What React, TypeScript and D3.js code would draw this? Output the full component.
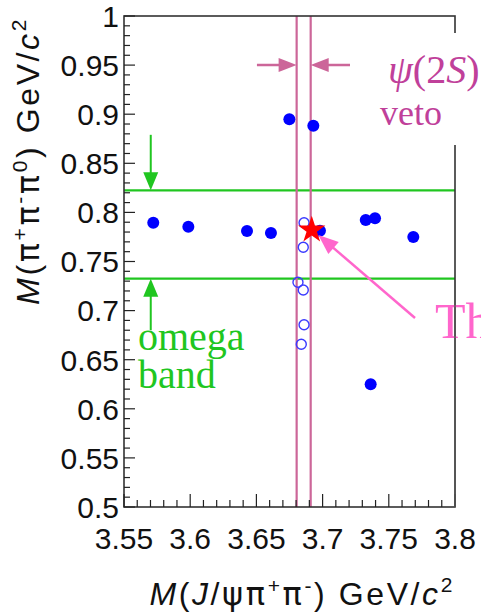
import * as d3 from "d3";

// event candidates passing selection (filled) and inside the psi(2S) veto (open)
const filledX = [3.5721, 3.5986, 3.6429, 3.661, 3.698, 3.7326, 3.7396, 3.7685, 3.7363, 3.6749, 3.693];
const filledY = [0.7895, 0.7854, 0.7811, 0.779, 0.7814, 0.7923, 0.794, 0.7749, 0.6249, 0.8948, 0.8883];
const openX = [3.686, 3.6854, 3.6814, 3.6854, 3.686, 3.6839];
const openY = [0.7895, 0.7645, 0.7288, 0.721, 0.6856, 0.6657];
const starPoint = [3.6918, 0.7821];
const vetoLines = [3.6804, 3.691];
const omegaBand = [0.7325, 0.8225];
const xTicks = [3.55, 3.6, 3.65, 3.7, 3.75, 3.8];
const xTickLabels = ["3.55", "3.6", "3.65", "3.7", "3.75", "3.8"];
const yTicks = [0.5, 0.55, 0.6, 0.65, 0.7, 0.75, 0.8, 0.85, 0.9, 0.95, 1];
const yTickLabels = ["0.5", "0.55", "0.6", "0.65", "0.7", "0.75", "0.8", "0.85", "0.9", "0.95", "1"];

const W = 481;
const H = 616;
const sans = "'Liberation Sans', Arial, sans-serif";
const serif = "'Liberation Serif', 'Times New Roman', serif";
const greek = "'DejaVu Sans', sans-serif";
const green = "#20c620";
const vetoPink = "#cc6699";
const hotPink = "#ff66cc";

function arrowHead(tx: number, ty: number, fx: number, fy: number, len: number, half: number) {
  // triangle with tip at (tx,ty) pointing away from (fx,fy)
  const a = Math.atan2(ty - fy, tx - fx);
  const bx = tx - len * Math.cos(a);
  const by = ty - len * Math.sin(a);
  const px = -Math.sin(a) * half;
  const py = Math.cos(a) * half;
  return `M${tx},${ty}L${bx + px},${by + py}L${bx - px},${by - py}Z`;
}

export default function App() {
  const x = d3.scaleLinear().domain([3.55, 3.8]).range([124, 455]);
  const y = d3.scaleLinear().domain([0.5, 1]).range([507, 16]);

  const xMinor = d3.range(3.55, 3.8001, 0.01);
  const yMinor = d3.range(0.5, 1.0001, 0.01);

  const star = d3.symbol().type(d3.symbolStar).size(230)();

  // annotation anchors in data units
  const gx = x(3.5702);
  const downTop = y(0.879);
  const upBottom = y(0.68);
  const pinkY = y(0.9501);
  const leftStart = x(3.6504);
  const rightStart = x(3.7207);
  const tail = [x(3.7698), y(0.6925)];
  const tip = [x(3.6968), y(0.777)];
  const ang = Math.atan2(tip[1] - tail[1], tip[0] - tail[0]);

  return (
    <svg width={W} height={H} style={{ position: "absolute", left: 0, top: 0, background: "#fff" }}>
      {/* omega band */}
      {omegaBand.map((v, i) => (
        <line key={"b" + i} x1={x(3.55)} x2={x(3.8)} y1={y(v)} y2={y(v)} stroke={green} strokeWidth={2.2} />
      ))}
      {/* psi(2S) veto lines */}
      {vetoLines.map((v, i) => (
        <line key={"v" + i} x1={x(v)} x2={x(v)} y1={y(1)} y2={y(0.5)} stroke={vetoPink} strokeWidth={2.2} />
      ))}

      {/* vetoed events */}
      {openX.map((v, i) => (
        <circle key={"o" + i} cx={x(v)} cy={y(openY[i])} r={5} fill="none" stroke="#3a3aff" strokeWidth={1.4} />
      ))}
      {/* selected events */}
      {filledX.map((v, i) => (
        <circle key={"f" + i} cx={x(v)} cy={y(filledY[i])} r={6} fill="#0000ff" />
      ))}
      <path d={star ?? ""} transform={`translate(${x(starPoint[0])},${y(starPoint[1])})`} fill="#ff0000" />

      {/* frame */}
      <rect x={x(3.55)} y={y(1)} width={x(3.8) - x(3.55)} height={y(0.5) - y(1)} fill="none" stroke="#333" strokeWidth={1.6} />

      {/* x ticks */}
      {xMinor.map((v, i) => {
        const major = i % 5 === 0;
        return <line key={"xm" + i} x1={x(v)} x2={x(v)} y1={y(0.5)} y2={y(0.5) - (major ? 13 : 7)} stroke="#222" strokeWidth={1.2} />;
      })}
      {xTicks.map((v, i) => (
        <text key={"xl" + i} x={x(v)} y={549} textAnchor="middle" fontFamily={sans} fontSize={30} fill="#111">
          {xTickLabels[i]}
        </text>
      ))}
      {/* y ticks */}
      {yMinor.map((v, i) => {
        const major = i % 5 === 0;
        return <line key={"ym" + i} x1={x(3.55)} x2={x(3.55) + (major ? 11 : 6)} y1={y(v)} y2={y(v)} stroke="#222" strokeWidth={1.2} />;
      })}
      {yTicks.map((v, i) => (
        <text key={"yl" + i} x={119} y={y(v)} dy="0.36em" textAnchor="end" fontFamily={sans} fontSize={30} fill="#111">
          {yTickLabels[i]}
        </text>
      ))}

      {/* axis titles */}
      <text x={455} y={605} textAnchor="end" fontFamily={sans} fontSize={32} fill="#111" letterSpacing={2.6}>
        <tspan fontStyle="italic">M</tspan>(<tspan fontStyle="italic">J</tspan>/
        <tspan fontFamily={greek}>ψπ</tspan>
        <tspan dy={-12} fontSize={21}>+</tspan>
        <tspan dy={12} fontFamily={greek}>π</tspan>
        <tspan dy={-12} fontSize={21}>-</tspan>
        <tspan dy={12}>) GeV/</tspan>
        <tspan fontStyle="italic">c</tspan>
        <tspan dy={-13} fontSize={21}>2</tspan>
      </text>
      <text transform="translate(39,17) rotate(-90)" textAnchor="end" fontFamily={sans} fontSize={32} fill="#111" letterSpacing={2.6}>
        <tspan fontStyle="italic">M</tspan>(
        <tspan fontFamily={greek}>π</tspan>
        <tspan dy={-12} fontSize={21}>+</tspan>
        <tspan dy={12} fontFamily={greek}>π</tspan>
        <tspan dy={-12} fontSize={21}>-</tspan>
        <tspan dy={12} fontFamily={greek}>π</tspan>
        <tspan dy={-12} fontSize={21}>0</tspan>
        <tspan dy={12}>) GeV/</tspan>
        <tspan fontStyle="italic">c</tspan>
        <tspan dy={-13} fontSize={21}>2</tspan>
      </text>

      {/* omega band annotation */}
      <line x1={gx} x2={gx} y1={downTop} y2={y(omegaBand[1]) - 14} stroke={green} strokeWidth={2} />
      <path d={arrowHead(gx, y(omegaBand[1]), gx, downTop, 18, 7.5)} fill={green} />
      <line x1={gx} x2={gx} y1={upBottom} y2={y(omegaBand[0]) + 14} stroke={green} strokeWidth={2} />
      <path d={arrowHead(gx, y(omegaBand[0]), gx, upBottom, 18, 7.5)} fill={green} />
      <text x={138} y={350} fontFamily={serif} fontSize={40} fill={green}>omega</text>
      <text x={138} y={388} fontFamily={serif} fontSize={40} fill={green}>band</text>

      {/* psi(2S) veto annotation */}
      <line x1={leftStart} x2={x(vetoLines[0]) - 12} y1={pinkY} y2={pinkY} stroke={vetoPink} strokeWidth={2.5} />
      <path d={arrowHead(x(vetoLines[0]), pinkY, leftStart, pinkY, 18, 7)} fill={vetoPink} />
      <line x1={rightStart} x2={x(vetoLines[1]) + 12} y1={pinkY} y2={pinkY} stroke={vetoPink} strokeWidth={2.5} />
      <path d={arrowHead(x(vetoLines[1]), pinkY, rightStart, pinkY, 18, 7)} fill={vetoPink} />
      <rect x={351} y={33} width={140} height={112} fill="#fff" />
      <text x={388} y={83} fontFamily={serif} fontSize={40} fill="#c0409a">
        <tspan fontStyle="italic">ψ</tspan>(2<tspan fontStyle="italic">S</tspan>)
      </text>
      <text x={380} y={125} fontFamily={serif} fontSize={36} fill="#c0409a">veto</text>

      {/* this event annotation */}
      <line
        x1={tail[0]}
        y1={tail[1]}
        x2={tip[0] - 14 * Math.cos(ang)}
        y2={tip[1] - 14 * Math.sin(ang)}
        stroke={hotPink}
        strokeWidth={2.5}
      />
      <path d={arrowHead(tip[0], tip[1], tail[0], tail[1], 20, 8)} fill={hotPink} />
      <text x={435} y={338} fontFamily={serif} fontSize={50} fill={hotPink}>This event</text>
      <line x1={x(3.8)} x2={x(3.8)} y1={280} y2={y(0.5)} stroke="#555" strokeWidth={1.6} />
    </svg>
  );
}
